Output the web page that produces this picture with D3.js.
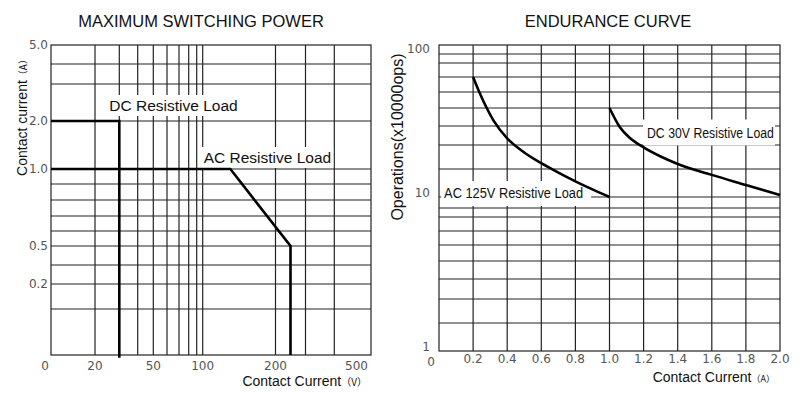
<!DOCTYPE html>
<html>
<head>
<meta charset="utf-8">
<script src="https://cdn.jsdelivr.net/npm/d3@7"></script>
<style>
  body { margin: 0; background: #fff; }
  text { font-family: "Liberation Sans", Arial, sans-serif; }
  .tick { font-family: "DejaVu Sans", Verdana, sans-serif; font-size: 12px; fill: #555; }
  .grid { stroke: #222; stroke-width: 1.2; fill: none; }
  .load { stroke: #000; stroke-width: 2.6; fill: none; }
  .cjk { font-family: "Noto Sans CJK SC", sans-serif; }
</style>
</head>
<body>
<script>
// ---- left chart: maximum switching power ----
var powerGridV = [20, 30, 40, 50, 60, 70, 80, 90, 100, 200, 300, 400];
var powerGridA = [0.1, 0.2, 0.3, 0.5, 0.6, 0.7, 0.8, 0.9, 1, 2, 3, 4];
var powerTicksV = [0, 20, 50, 100, 200, 500];
var powerTicksA = [5, 2, 1, 0.5, 0.2];
var dcLoadV = [0, 30, 30];
var dcLoadA = [2, 2, 0.047];
var acLoadV = [0, 138, 250, 250];
var acLoadA = [1, 1, 0.5, 0.05];

// ---- right chart: endurance curve ----
var currentGrid = [0.2, 0.4, 0.6, 0.8, 1.0, 1.2, 1.4, 1.6, 1.8];
var currentTicks = [0.2, 0.4, 0.6, 0.8, 1.0, 1.2, 1.4, 1.6, 1.8, 2.0];
var opsGrid = [2, 3, 4, 5, 6, 7, 8, 9, 10, 20, 30, 40, 50, 60, 70, 80, 90];
var opsTicks = [100, 10, 1];
var ac125Current = [0.2, 0.24, 0.32, 0.4, 0.5, 0.6, 0.7, 0.8, 0.9, 1.0];
var ac125Ops = [70, 59, 43, 33.5, 26.9, 22.4, 18.7, 15.6, 12.7, 10];
var dc30Current = [1.0, 1.06, 1.12, 1.2, 1.3, 1.4, 1.6, 1.8, 2.0];
var dc30Ops = [50, 39.5, 33.7, 29, 25.2, 22.1, 17.9, 14.3, 10.7];

var svg = d3.select("body").append("svg")
    .attr("width", 800)
    .attr("height", 397);

// label with a white patch behind it, so grid lines break around it.
// len squeezes the text sideways (the endurance labels are condensed)
function boxedLabel(g, x, y, str, size, len, pad) {
  var lg = g.append("g");
  var t = lg.append("text")
      .style("font-size", size + "px")
      .attr("fill", "#111")
      .text(str);
  var b = t.node().getBBox();
  var sx = len ? len / b.width : 1;
  lg.attr("transform", "translate(" + x + "," + y + ") scale(" + sx + ",1)");
  lg.insert("rect", "text")
      .attr("x", b.x - pad[0] / sx).attr("y", b.y - pad[1])
      .attr("width", b.width + (pad[0] + pad[2]) / sx)
      .attr("height", b.height + pad[1] + pad[3])
      .attr("fill", "#fff");
}

// ================= left =================
var wL = 320, hL = 310;
var gL = svg.append("g").attr("transform", "translate(51,45)");

// the paper grid is hand drawn, so the scales are piecewise
var xL = d3.scaleLinear()
    .domain([0, 20, 30, 40, 50, 60, 70, 80, 90, 100, 200, 300, 400, 500])
    .range([0, 44, 68.3, 86.7, 102.3, 116, 128, 137.7, 145.7, 151.7, 224.5, 254.5, 283.3, wL]);
var yL = d3.scaleLinear()
    .domain([0.05, 0.1, 0.2, 0.3, 0.5, 0.6, 0.7, 0.8, 0.9, 1, 2, 3, 4, 5])
    .range([hL, 264, 239, 220, 201, 186, 171, 155, 139, 124, 76, 39, 19, 0]);

gL.selectAll(".gv").data(powerGridV).enter().append("line")
    .attr("class", "grid")
    .attr("x1", function(d) { return xL(d); }).attr("x2", function(d) { return xL(d); })
    .attr("y1", 0).attr("y2", hL);
gL.selectAll(".gh").data(powerGridA).enter().append("line")
    .attr("class", "grid")
    .attr("x1", 0).attr("x2", wL)
    .attr("y1", function(d) { return yL(d); }).attr("y2", function(d) { return yL(d); });
gL.append("rect").attr("class", "grid").attr("width", wL).attr("height", hL);

boxedLabel(gL, xL(30) - 10, yL(2) - 10, "DC Resistive Load", 15.5, null, [2, 2, 2, 2]);
boxedLabel(gL, xL(100) + 1, yL(1) - 6, "AC Resistive Load", 15.5, null, [2, 2, 2, 2]);

var lineL = d3.line()
    .x(function(d) { return xL(d[0]); })
    .y(function(d) { return yL(d[1]); });
gL.append("path").attr("class", "load").attr("d", lineL(d3.zip(dcLoadV, dcLoadA)));
gL.append("path").attr("class", "load").attr("d", lineL(d3.zip(acLoadV, acLoadA)));

gL.selectAll(".tx").data(powerTicksV).enter().append("text")
    .attr("class", "tick")
    .attr("x", function(d) { return d == 0 ? xL(d) - 2 : d == 500 ? xL(d) - 3 : xL(d); })
    .attr("y", hL + 15)
    .style("text-anchor", function(d) { return d == 0 || d == 500 ? "end" : "middle"; })
    .text(function(d) { return d; });
gL.selectAll(".ty").data(powerTicksA).enter().append("text")
    .attr("class", "tick")
    .attr("x", -3)
    .attr("y", function(d) { return yL(d); })
    .attr("dy", "0.35em")
    .style("text-anchor", "end")
    .text(function(d) { return d.toFixed(1); });

var tL = gL.append("text")
    .attr("x", wL - 4).attr("y", hL + 31)
    .style("text-anchor", "end")
    .style("font-size", "14px")
    .attr("fill", "#111");
tL.append("tspan").text("Contact Current");
tL.append("tspan").attr("class", "cjk").style("font-size", "10px").text("（V）");

var yTitleL = gL.append("text")
    .attr("transform", "translate(-29,70) rotate(-90)")
    .attr("dy", "0.35em")
    .style("text-anchor", "middle")
    .style("font-size", "14px")
    .attr("fill", "#111");
yTitleL.append("tspan").text("Contact current");
yTitleL.append("tspan").attr("class", "cjk").style("font-size", "10px").text("（A）");

svg.append("text")
    .attr("x", 201).attr("y", 27)
    .style("text-anchor", "middle")
    .style("font-size", "16.5px")
    .attr("fill", "#111")
    .text("MAXIMUM SWITCHING POWER");

// ================= right =================
var wR = 341, hR = 306;
var gR = svg.append("g").attr("transform", "translate(439,45)");

var xR = d3.scaleLinear().domain([0, 2]).range([0, wR]);
var yR = d3.scaleLinear()
    .domain([1, 2, 3, 4, 5, 6, 7, 8, 9, 10, 20, 30, 40, 50, 60, 70, 80, 90, 100])
    .range([hR, 278, 254, 234, 216, 200, 186, 172, 163, 152, 124, 100, 81, 63, 47, 32, 18, 9, 0]);

gR.selectAll(".gv").data(currentGrid).enter().append("line")
    .attr("class", "grid")
    .attr("x1", function(d) { return xR(d); }).attr("x2", function(d) { return xR(d); })
    .attr("y1", 0).attr("y2", hR);
gR.selectAll(".gh").data(opsGrid).enter().append("line")
    .attr("class", "grid")
    .attr("x1", 0).attr("x2", wR)
    .attr("y1", function(d) { return yR(d); }).attr("y2", function(d) { return yR(d); });

boxedLabel(gR, xR(0.03), yR(10) + 1, "AC 125V Resistive Load", 15.5, 139, [3, 3, 8, 5]);
boxedLabel(gR, xR(1.22), yR(30) - 7.5, "DC 30V Resistive Load", 15.5, 127, [4, 4, 1, 5]);

// frame drawn after the label patches so it stays whole
gR.append("rect").attr("class", "grid").attr("width", wR).attr("height", hR);

var lineR = d3.line()
    .curve(d3.curveMonotoneX)
    .x(function(d) { return xR(d[0]); })
    .y(function(d) { return yR(d[1]); });
gR.append("path").attr("class", "load").attr("d", lineR(d3.zip(ac125Current, ac125Ops)));
gR.append("path").attr("class", "load").attr("d", lineR(d3.zip(dc30Current, dc30Ops)));

gR.selectAll(".tx").data(currentTicks).enter().append("text")
    .attr("class", "tick")
    .attr("x", function(d) { return xR(d); })
    .attr("y", hR + 12)
    .style("text-anchor", "middle")
    .text(function(d) { return d.toFixed(1); });
gR.append("text")
    .attr("class", "tick")
    .attr("x", xR(0) - 8).attr("y", hR + 15)
    .style("text-anchor", "middle")
    .text("0");
gR.selectAll(".ty").data(opsTicks).enter().append("text")
    .attr("class", "tick")
    .attr("x", -9)
    .attr("y", function(d) { return Math.max(yR(d), 8) - 4; })
    .attr("dy", "0.35em")
    .style("text-anchor", "end")
    .text(function(d) { return d; });

var tR = gR.append("text")
    .attr("x", wR - 5).attr("y", hR + 31)
    .style("text-anchor", "end")
    .style("font-size", "14px")
    .attr("fill", "#111");
tR.append("tspan").text("Contact Current");
tR.append("tspan").attr("class", "cjk").style("font-size", "9px").text("（A）");

gR.append("text")
    .attr("transform", "translate(-42,92) rotate(-90)")
    .attr("dy", "0.35em")
    .style("text-anchor", "middle")
    .style("font-size", "16px")
    .attr("fill", "#111")
    .text("Operations(x10000ops)");

svg.append("text")
    .attr("x", 608).attr("y", 27)
    .style("text-anchor", "middle")
    .style("font-size", "16.5px")
    .attr("fill", "#111")
    .text("ENDURANCE CURVE");
</script>
</body>
</html>
